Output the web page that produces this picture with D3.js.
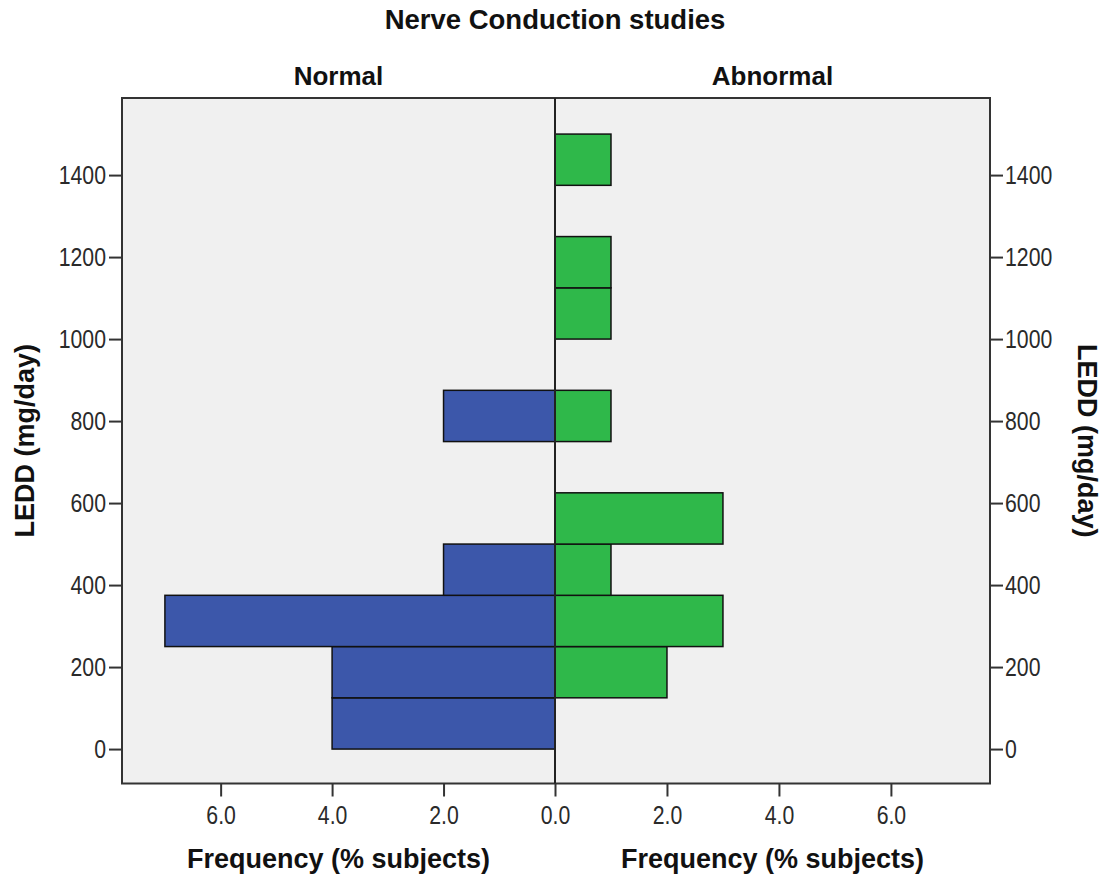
<!DOCTYPE html>
<html>
<head>
<meta charset="utf-8">
<script src="https://cdn.jsdelivr.net/npm/d3@7"></script>
<style>
  html, body { margin: 0; padding: 0; background: #ffffff; }
  svg { display: block; }
  .tick text { font-family: "Liberation Sans", Arial, sans-serif; font-size: 25px; fill: #2a2a2a; }
  .lbl { font-family: "Liberation Sans", Arial, sans-serif; font-weight: bold; font-size: 27px; fill: #111; }
</style>
</head>
<body>
<svg id="chart" width="1104" height="882"></svg>
<script>
// ---- data ----
const binStarts = [0, 125, 250, 375, 500, 625, 750, 875, 1000, 1125, 1250, 1375];
const binWidth = 125;
const normalPct = [4, 4, 7, 2, 0, 0, 2, 0, 0, 0, 0, 0];
const abnormalPct = [0, 2, 3, 1, 3, 0, 1, 0, 1, 1, 0, 1];
const yTicks = [0, 200, 400, 600, 800, 1000, 1200, 1400];
const xTicks = [0, 2, 4, 6];
const panelTitles = ["Normal", "Abnormal"];
const chartTitle = "Nerve Conduction studies";
const xTitle = "Frequency (% subjects)";
const yTitle = "LEDD (mg/day)";

(function () {
// ---- layout ----
const svg = d3.select("#chart");
const pLeft = 122, pRight = 990, pCenter = 555, pTop = 98, pBottom = 783.5;
const blue = "#3c57aa", green = "#2fb84a";

const y = d3.scaleLinear().domain([-84, 1588]).range([pBottom, pTop]);
const xL = d3.scaleLinear().domain([0, 7.77]).range([pCenter, pLeft]);
const xR = d3.scaleLinear().domain([0, 7.77]).range([pCenter, pRight]);

// background
svg.append("rect").attr("x", pLeft).attr("y", pTop)
  .attr("width", pRight - pLeft).attr("height", pBottom - pTop)
  .attr("fill", "#f0f0f0");

// bars
const rows = binStarts.map((s, i) => ({ lo: s, hi: s + binWidth, n: normalPct[i], a: abnormalPct[i] }));

svg.append("g").selectAll("rect").data(rows.filter(d => d.n > 0)).join("rect")
  .attr("x", d => xL(d.n)).attr("y", d => y(d.hi))
  .attr("width", d => xL(0) - xL(d.n)).attr("height", d => y(d.lo) - y(d.hi))
  .attr("fill", blue).attr("stroke", "#111").attr("stroke-width", 1.5);

svg.append("g").selectAll("rect").data(rows.filter(d => d.a > 0)).join("rect")
  .attr("x", xR(0)).attr("y", d => y(d.hi))
  .attr("width", d => xR(d.a) - xR(0)).attr("height", d => y(d.lo) - y(d.hi))
  .attr("fill", green).attr("stroke", "#111").attr("stroke-width", 1.5);

// frame + center line
svg.append("rect").attr("x", pLeft).attr("y", pTop)
  .attr("width", pRight - pLeft).attr("height", pBottom - pTop)
  .attr("fill", "none").attr("stroke", "#333").attr("stroke-width", 2);
svg.append("line").attr("x1", pCenter).attr("x2", pCenter).attr("y1", pTop).attr("y2", pBottom)
  .attr("stroke", "#222").attr("stroke-width", 2);

function styleAxis(g) {
  g.select(".domain").remove();
  g.selectAll(".tick line").attr("stroke", "#333").attr("stroke-width", 2);
  // narrow the digits to mimic the condensed tick font of the original
  g.selectAll(".tick text").each(function () {
    const w = this.getComputedTextLength();
    d3.select(this).attr("textLength", w * 0.85).attr("lengthAdjust", "spacingAndGlyphs");
  });
}

// y axes
svg.append("g").attr("transform", `translate(${pLeft},0)`)
  .call(d3.axisLeft(y).tickValues(yTicks).tickSize(13).tickPadding(3).tickFormat(d3.format("d")))
  .call(styleAxis);
svg.append("g").attr("transform", `translate(${pRight},0)`)
  .call(d3.axisRight(y).tickValues(yTicks).tickSize(13).tickPadding(2).tickFormat(d3.format("d")))
  .call(styleAxis);

// x axes
svg.append("g").attr("transform", `translate(0,${pBottom})`)
  .call(d3.axisBottom(xL).tickValues(xTicks.filter(v => v > 0)).tickSize(13).tickPadding(10).tickFormat(d3.format(".1f")))
  .call(styleAxis);
svg.append("g").attr("transform", `translate(0,${pBottom})`)
  .call(d3.axisBottom(xR).tickValues(xTicks).tickSize(13).tickPadding(10).tickFormat(d3.format(".1f")))
  .call(styleAxis);

// titles
svg.append("text").attr("class", "lbl").attr("x", pCenter).attr("y", 29)
  .style("font-size", "27.5px")
  .attr("text-anchor", "middle").text(chartTitle);
svg.append("text").attr("class", "lbl").attr("x", (pLeft + pCenter) / 2).attr("y", 85)
  .style("font-size", "26px")
  .attr("text-anchor", "middle").text(panelTitles[0]);
svg.append("text").attr("class", "lbl").attr("x", (pCenter + pRight) / 2).attr("y", 85)
  .style("font-size", "26px")
  .attr("text-anchor", "middle").text(panelTitles[1]);
svg.append("text").attr("class", "lbl").attr("x", (pLeft + pCenter) / 2).attr("y", 868)
  .attr("text-anchor", "middle").text(xTitle);
svg.append("text").attr("class", "lbl").attr("x", (pCenter + pRight) / 2).attr("y", 868)
  .attr("text-anchor", "middle").text(xTitle);

const midY = (pTop + pBottom) / 2;
svg.append("text").attr("class", "lbl")
  .attr("transform", `translate(34,${midY}) rotate(-90)`)
  .attr("text-anchor", "middle").text(yTitle);
svg.append("text").attr("class", "lbl")
  .attr("transform", `translate(1078,${midY}) rotate(90)`)
  .attr("text-anchor", "middle").text(yTitle);
})();
</script>
</body>
</html>
